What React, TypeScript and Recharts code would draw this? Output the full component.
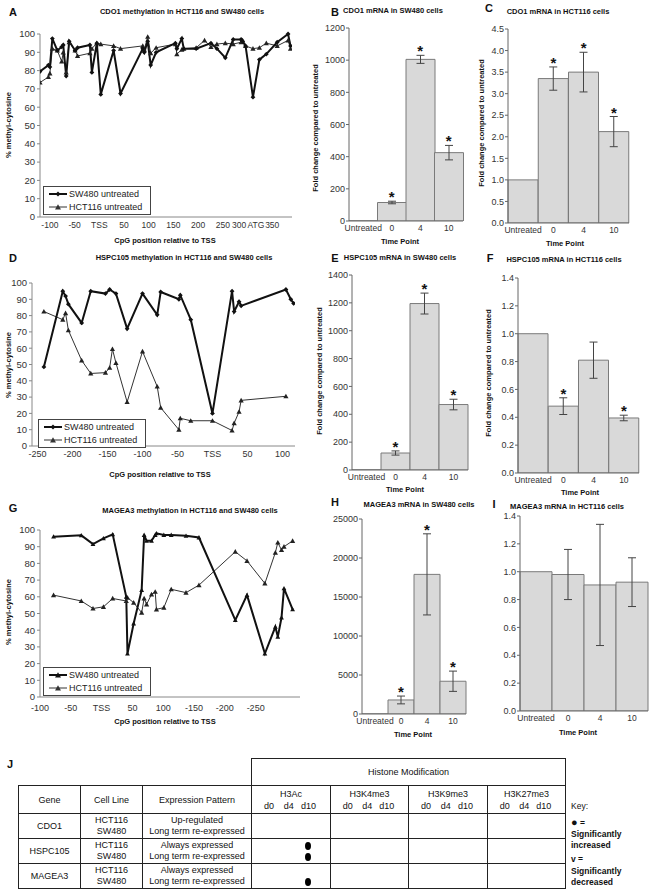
import React from "react";
import {
  LineChart,
  Line,
  XAxis,
  YAxis,
  Legend,
  ComposedChart,
  Bar,
  ErrorBar,
} from "recharts";

const FONT = '"Liberation Sans", Arial, Helvetica, sans-serif';

// ---------- A: CDO1 methylation ----------
const cdo1Pos = [-120, -103, -100, -95, -85, -76, -73, -67, -61, -49, -44, -19, -15, -5, 3, 29, 43, 88, 91, 98, 104, 115, 154, 157, 167, 171, 196, 213, 226, 238, 255, 271, 287, 290, 296, 311, 324, 338, 360, 382, 387];
const cdo1Sw480 = [79.5, 83, 82, 97.5, 91, 93, 94, 77, 96, 91, 92.5, 94, 79, 95, 67, 91, 67.5, 92, 90, 96, 83, 90, 95, 92, 97.5, 92, 92, null, 95, 92, 87, 97, 97, 96, 93.5, 65.5, 86, 89, 95.5, 100, 93.5];
const cdo1Hct116 = [73.5, 76.5, 78.5, 92, 91, 85, 90, 79, 95.5, 91, 88, 89.5, 92, 95, 94.5, 93.5, 92, 93.5, 91.5, 98.5, 89.5, 92.5, 94.5, 89, 91.5, 92, 92.5, 96.5, 93, 94.5, 95, 94.5, 95.5, 96.5, 93.5, 92, 92.5, 95, 93.5, 96.5, 92];
const cdo1Ticks = [-100, -50, 0, 50, 100, 150, 200, 250, 283, 317, 350];
const cdo1TickLabels = ["-100", "-50", "TSS", "50", "100", "150", "200", "250", "300", "ATG", "350"];

// ---------- D: HSPC105 methylation ----------
const hspcPos = [-241, -214, -210, -206, -187, -174, -153, -147, -143, -138, -122, -100, -79, -74, -48, -46, -31, 0, 28, 31, 38, 41, 105, 112, 116];
const hspcSw480 = [48.5, 95, 92, 87, 75.5, 95, 93.5, 96, null, 93.5, 72, 93.5, 80.5, 94.5, 90, 92.5, 77.5, 20, 95, 82.5, 88.5, 86, 96, 90, 87.5];
const hspcHct116 = [82.5, 77.5, 81.5, 71, 52.5, 44.5, 45, 48, 59.5, 51, 27, 58, 36.5, 23.5, 10, 17, 15.5, 15.5, 9.5, 14, 21, 28, 30.5, null, null];
const hspcTicks = [-250, -200, -150, -100, -50, 0, 50, 100];
const hspcTickLabels = ["-250", "-200", "-150", "-100", "-50", "TSS", "50", "100"];

// ---------- G: MAGEA3 methylation ----------
const mageaPos = [-78, -33, -14, 3, 18, 40, 42, 52, 65, 69, 73, 81, 87, 89, 101, 113, 137, 158, 217, 236, 265, 282, 286, 292, 296, 310];
const mageaSw480 = [96, 96.8, 91.6, 95, 97.4, 60, 26, 44, 64, 97, 93.5, 93.5, 97, 98, 97, 97, 96.5, 95.5, 46, 61, 26, 42, 36, 47.5, 65, 52.5];
const mageaHct116 = [61, 57.5, 53, 54, 59, 57.5, 59.5, 56.5, 50.5, 59, 55.5, 61.5, 63, 52.5, 53.5, 64.5, 62.5, 67, 87, 81.5, 68, 86.5, 92.5, 88, 90, 93.5];
const mageaTicks = [-100, -50, 0, 50, 100, 150, 200, 250];
const mageaTickLabels = ["-100", "-50", "TSS", "50", "100", "-150", "-200", "-250"];

const methylTicks = [0, 10, 20, 30, 40, 50, 60, 70, 80, 90, 100];

// ---------- mRNA bar panels ----------
const timePoints = ["Untreated", "0", "4", "10"];

const cdo1Sw480Fold = [1, 115, 1005, 425];
const cdo1Sw480Err = [0, 8, 25, 45];
const cdo1Sw480Star = [false, true, true, true];

const cdo1HctFold = [1.0, 3.35, 3.5, 2.12];
const cdo1HctErr = [0, 0.27, 0.46, 0.35];
const cdo1HctStar = [false, true, true, true];

const hspcSw480Fold = [1, 122, 1195, 470];
const hspcSw480Err = [0, 15, 75, 38];
const hspcSw480Star = [false, true, true, true];

const hspcHctFold = [1.0, 0.48, 0.81, 0.395];
const hspcHctErr = [0, 0.06, 0.13, 0.02];
const hspcHctStar = [false, true, false, true];

const mageaSw480Fold = [1, 1800, 17900, 4200];
const mageaSw480Err = [0, 500, 5200, 1300];
const mageaSw480Star = [false, true, true, true];

const mageaHctFold = [1.0, 0.98, 0.905, 0.925];
const mageaHctErr = [0, 0.18, 0.435, 0.175];
const mageaHctStar = [false, false, false, false];

// ---------- J: histone table ----------
const geneRows = [
  { gene: "CDO1", pattern: ["Up-regulated", "Long term re-expressed"] },
  { gene: "HSPC105", pattern: ["Always expressed", "Long term re-expressed"] },
  { gene: "MAGEA3", pattern: ["Always expressed", "Long term re-expressed"] },
];
const cellLines = ["HCT116", "SW480"];
const histoneMarks = ["H3Ac", "H3K4me3", "H3K9me3", "H3K27me3"];
const days = ["d0", "d4", "d10"];
const increased = [
  { gene: "HSPC105", mark: "H3Ac", day: "d10", line: "HCT116" },
  { gene: "HSPC105", mark: "H3Ac", day: "d10", line: "SW480" },
  { gene: "MAGEA3", mark: "H3Ac", day: "d10", line: "SW480" },
];

type Rect = { x0: number; y0: number; x1: number; y1: number };

function Txt({ x, y, children, size = 8, bold = false, anchor = "middle", rotate = false }: any) {
  const tx = anchor === "middle" ? "-50%" : "0";
  return (
    <div
      style={{
        position: "absolute",
        left: x,
        top: y,
        transform: `translate(${tx}, -50%)${rotate ? " rotate(-90deg)" : ""}`,
        transformOrigin: rotate ? "center" : undefined,
        fontSize: size,
        fontWeight: bold ? "bold" : "normal",
        whiteSpace: "nowrap",
        lineHeight: 1,
        color: "#111",
      }}
    >
      {children}
    </div>
  );
}

const makeDot = (shape: "diamond" | "triangle", s: number, color: string) => (p: any) => {
  const { cx, cy, index, value } = p;
  const k = `dot-${index}`;
  if (cx == null || cy == null || value == null || Number.isNaN(cy)) return <g key={k} />;
  if (shape === "triangle") {
    return <path key={k} d={`M${cx},${cy - s} L${cx + s},${cy + s * 0.8} L${cx - s},${cy + s * 0.8} Z`} fill={color} />;
  }
  return <path key={k} d={`M${cx},${cy - s} L${cx + s},${cy} L${cx},${cy + s} L${cx - s},${cy} Z`} fill={color} />;
};

function MethylLegend({ swShape }: { swShape: "diamond" | "triangle" }) {
  const rows = [
    { name: "SW480 untreated", w: 2, color: "#111", shape: swShape },
    { name: "HCT116 untreated", w: 1, color: "#333", shape: "triangle" as const },
  ];
  return (
    <div style={{ border: "1px solid #444", background: "#fff", padding: "1px 8px 1px 4px", whiteSpace: "nowrap" }}>
      {rows.map((r) => (
        <div key={r.name} style={{ display: "flex", alignItems: "center", height: 12.5, fontSize: 9, color: "#222", fontFamily: FONT }}>
          <svg width={20} height={8} style={{ marginRight: 1, flex: "none" }}>
            <line x1={1} y1={4} x2={19} y2={4} stroke={r.color} strokeWidth={r.w} />
            {r.shape === "triangle" ? (
              <path d="M10,1.2 L13,6.4 L7,6.4 Z" fill={r.color} />
            ) : (
              <path d="M10,1.5 L12.5,4 L10,6.5 L7.5,4 Z" fill={r.color} />
            )}
          </svg>
          <span>{r.name}</span>
        </div>
      ))}
    </div>
  );
}

function MethylPanel({ rect, pos, sw, hct, domain, ticks, labels, swShape, legend, xFont = 9, xGap = 4 }: any) {
  const L = 32, T = 6, R = 8, B = 18;
  const width = rect.x1 - rect.x0 + L + R;
  const height = rect.y1 - rect.y0 + T + B;
  const data = pos.map((p: number, i: number) => ({ pos: p, sw: sw[i], hct: hct[i] }));
  const fmt = (v: number) => labels[ticks.indexOf(v)] ?? String(v);
  return (
    <div style={{ position: "absolute", left: rect.x0 - L, top: rect.y0 - T }}>
      <LineChart width={width} height={height} data={data} margin={{ top: T, right: R, left: 0, bottom: 0 }}>
        <XAxis
          type="number"
          dataKey="pos"
          domain={domain}
          ticks={ticks}
          interval={0}
          allowDataOverflow
          tickFormatter={fmt}
          height={B}
          tickLine={false}
          tickSize={1}
          tickMargin={xGap}
          axisLine={{ stroke: "#888" }}
          tick={{ fontSize: xFont, fill: "#333", fontFamily: FONT }}
        />
        <YAxis
          type="number"
          domain={[0, 100]}
          ticks={methylTicks}
          interval={0}
          width={L}
          tickSize={3}
          tickMargin={2}
          axisLine={{ stroke: "#888" }}
          tickLine={{ stroke: "#888" }}
          tick={{ fontSize: 9.5, fill: "#333", fontFamily: FONT }}
        />
        <Legend
          layout="vertical"
          align="center"
          verticalAlign="middle"
          wrapperStyle={{ left: legend[0] - (rect.x0 - L), top: legend[1] - (rect.y0 - T), width: "auto", height: "auto" }}
          content={() => <MethylLegend swShape={swShape} />}
        />
        <Line
          type="linear"
          dataKey="hct"
          name="HCT116 untreated"
          stroke="#333"
          strokeWidth={1}
          dot={makeDot("triangle", 2.6, "#222")}
          activeDot={false}
          connectNulls
          isAnimationActive={false}
        />
        <Line
          type="linear"
          dataKey="sw"
          name="SW480 untreated"
          stroke="#111"
          strokeWidth={2}
          dot={makeDot(swShape, 2.4, "#111")}
          activeDot={false}
          connectNulls
          isAnimationActive={false}
        />
      </LineChart>
    </div>
  );
}

const renderStar = (p: any) => {
  const { cx, cy, index, value } = p;
  const k = `star-${index}`;
  if (cx == null || cy == null || value == null || Number.isNaN(cy)) return <g key={k} />;
  return (
    <text key={k} x={cx} y={cy + 1} textAnchor="middle" fontSize={15} fontWeight="bold" fontFamily={FONT} fill="#111">
      *
    </text>
  );
};

function FoldPanel({ rect, vals, errs, stars, yMax, yStep, decimals }: any) {
  const L = 34, T = 6, R = 4, B = 16;
  const width = rect.x1 - rect.x0 + L + R;
  const height = rect.y1 - rect.y0 + T + B;
  const data = timePoints.map((c, i) => ({
    cat: c,
    v: vals[i],
    err: errs[i],
    star: stars[i] ? vals[i] + errs[i] : null,
  }));
  const yTicks: number[] = [];
  for (let t = 0; t <= yMax + 1e-9; t += yStep) yTicks.push(Number(t.toFixed(4)));
  return (
    <div style={{ position: "absolute", left: rect.x0 - L, top: rect.y0 - T }}>
      <ComposedChart width={width} height={height} data={data} margin={{ top: T, right: R, left: 0, bottom: 0 }} barCategoryGap={0}>
        <XAxis
          dataKey="cat"
          height={B}
          tickLine={false}
          tickSize={1}
          tickMargin={3}
          interval={0}
          axisLine={{ stroke: "#666" }}
          tick={{ fontSize: 8.5, fill: "#333", fontFamily: FONT }}
        />
        <YAxis
          type="number"
          domain={[0, yMax]}
          ticks={yTicks}
          interval={0}
          width={L}
          tickSize={3}
          tickMargin={1}
          allowDataOverflow
          tickFormatter={(v: number) => v.toFixed(decimals)}
          axisLine={{ stroke: "#666" }}
          tickLine={{ stroke: "#666" }}
          tick={{ fontSize: 9, fill: "#333", fontFamily: FONT }}
        />
        <Bar dataKey="v" fill="#d9d9d9" stroke="#7a7a7a" strokeWidth={1} isAnimationActive={false}>
          <ErrorBar dataKey="err" width={4} stroke="#444" strokeWidth={1} direction="y" />
        </Bar>
        <Line dataKey="star" stroke="none" dot={renderStar} activeDot={false} legendType="none" isAnimationActive={false} />
      </ComposedChart>
    </div>
  );
}

function HistoneTable() {
  const colW = [62, 62, 109, 79, 78, 79, 78];
  const cell: React.CSSProperties = { border: "1px solid #222", padding: 0, textAlign: "center", verticalAlign: "middle" };
  const dayGrid: React.CSSProperties = { display: "grid", gridTemplateColumns: "1fr 1fr 1fr", paddingLeft: "9%", paddingRight: "15%" };
  return (
    <table
      style={{
        position: "absolute",
        left: 18,
        top: 758,
        borderCollapse: "collapse",
        tableLayout: "fixed",
        width: colW.reduce((a, b) => a + b, 0),
        fontSize: 9,
        color: "#111",
        fontFamily: FONT,
      }}
    >
      <colgroup>
        {colW.map((w, i) => (
          <col key={i} style={{ width: w }} />
        ))}
      </colgroup>
      <tbody>
        <tr style={{ height: 27 }}>
          <td colSpan={3} style={{ border: "none" }} />
          <td colSpan={4} style={cell}>Histone Modification</td>
        </tr>
        <tr style={{ height: 28 }}>
          <td style={cell}>Gene</td>
          <td style={cell}>Cell Line</td>
          <td style={cell}>Expression Pattern</td>
          {histoneMarks.map((m) => (
            <td key={m} style={cell}>
              <div style={{ lineHeight: "12px" }}>{m}</div>
              <div style={{ ...dayGrid, lineHeight: "12px" }}>
                {days.map((d) => (
                  <span key={d}>{d}</span>
                ))}
              </div>
            </td>
          ))}
        </tr>
        {geneRows.map((g) => (
          <tr key={g.gene} style={{ height: 25 }}>
            <td style={cell}>{g.gene}</td>
            <td style={{ ...cell, lineHeight: "11px" }}>
              {cellLines.map((l) => (
                <div key={l}>{l}</div>
              ))}
            </td>
            <td style={{ ...cell, lineHeight: "11px" }}>
              {g.pattern.map((t) => (
                <div key={t}>{t}</div>
              ))}
            </td>
            {histoneMarks.map((m) => (
              <td key={m} style={cell}>
                {cellLines.map((l) => (
                  <div key={l} style={{ ...dayGrid, height: 11, alignItems: "center" }}>
                    {days.map((d) => {
                      const on = increased.some((e) => e.gene === g.gene && e.mark === m && e.day === d && e.line === l);
                      return (
                        <span key={d} style={{ display: "flex", justifyContent: "center" }}>
                          {on ? <span style={{ width: 6, height: 8, borderRadius: "50%", background: "#000", display: "inline-block" }} /> : null}
                        </span>
                      );
                    })}
                  </div>
                ))}
              </td>
            ))}
          </tr>
        ))}
      </tbody>
    </table>
  );
}

export default function App() {
  const A: Rect = { x0: 40, y0: 34, x1: 292, y1: 217 };
  const D: Rect = { x0: 32, y0: 283, x1: 295, y1: 446 };
  const G: Rect = { x0: 40, y0: 530, x1: 300, y1: 697 };
  const foldLabel = "Fold change compared to untreated";
  return (
    <div style={{ position: "absolute", left: 0, top: 0, width: 651, height: 893, background: "#fff", overflow: "hidden", fontFamily: FONT }}>
      {/* line panels */}
      <MethylPanel rect={A} pos={cdo1Pos} sw={cdo1Sw480} hct={cdo1Hct116} domain={[-120, 390]} ticks={cdo1Ticks} labels={cdo1TickLabels} swShape="diamond" legend={[43, 186]} xFont={8.5} />
      <MethylPanel rect={D} pos={hspcPos} sw={hspcSw480} hct={hspcHct116} domain={[-258, 118]} ticks={hspcTicks} labels={hspcTickLabels} swShape="diamond" legend={[38, 419]} />
      <MethylPanel rect={G} pos={mageaPos} sw={mageaSw480} hct={mageaHct116} domain={[-100, 322]} ticks={mageaTicks} labels={mageaTickLabels} swShape="triangle" legend={[43, 667]} xGap={7} />

      {/* bar panels */}
      <FoldPanel rect={{ x0: 349, y0: 28, x1: 463, y1: 221 }} vals={cdo1Sw480Fold} errs={cdo1Sw480Err} stars={cdo1Sw480Star} yMax={1200} yStep={200} decimals={0} />
      <FoldPanel rect={{ x0: 508, y0: 29, x1: 629, y1: 223 }} vals={cdo1HctFold} errs={cdo1HctErr} stars={cdo1HctStar} yMax={4.5} yStep={0.5} decimals={1} />
      <FoldPanel rect={{ x0: 352, y0: 275, x1: 468, y1: 470 }} vals={hspcSw480Fold} errs={hspcSw480Err} stars={hspcSw480Star} yMax={1400} yStep={200} decimals={0} />
      <FoldPanel rect={{ x0: 518, y0: 278, x1: 639, y1: 473 }} vals={hspcHctFold} errs={hspcHctErr} stars={hspcHctStar} yMax={1.4} yStep={0.2} decimals={1} />
      <FoldPanel rect={{ x0: 362, y0: 519, x1: 466, y1: 714 }} vals={mageaSw480Fold} errs={mageaSw480Err} stars={mageaSw480Star} yMax={25000} yStep={5000} decimals={0} />
      <FoldPanel rect={{ x0: 520, y0: 516, x1: 648, y1: 711 }} vals={mageaHctFold} errs={mageaHctErr} stars={mageaHctStar} yMax={1.4} yStep={0.2} decimals={1} />

      {/* panel letters */}
      <Txt x={13} y={12} size={11} bold>A</Txt>
      <Txt x={335} y={12} size={11} bold>B</Txt>
      <Txt x={489} y={8} size={11} bold>C</Txt>
      <Txt x={13} y={258} size={11} bold>D</Txt>
      <Txt x={335} y={258} size={11} bold>E</Txt>
      <Txt x={490} y={258} size={11} bold>F</Txt>
      <Txt x={13} y={508} size={11} bold>G</Txt>
      <Txt x={335} y={502} size={11} bold>H</Txt>
      <Txt x={494} y={504} size={11} bold>I</Txt>
      <Txt x={10} y={764} size={11} bold>J</Txt>

      {/* titles */}
      <Txt x={182} y={12} size={7.5} bold>CDO1 methylation in HCT116 and SW480 cells</Txt>
      <Txt x={184} y={258} size={7.5} bold>HSPC105 methylation in HCT116 and SW480 cells</Txt>
      <Txt x={190} y={511} size={7.5} bold>MAGEA3 methylation in HCT116 and SW480 cells</Txt>
      <Txt x={393} y={11} size={7.5} bold>CDO1 mRNA in SW480 cells</Txt>
      <Txt x={558} y={12} size={7.5} bold>CDO1 mRNA in HCT116 cells</Txt>
      <Txt x={400} y={258} size={7.5} bold>HSPC105 mRNA in SW480 cells</Txt>
      <Txt x={564} y={260} size={7.5} bold>HSPC105 mRNA in HCT116 cells</Txt>
      <Txt x={419} y={505} size={7.5} bold>MAGEA3 mRNA in SW480 cells</Txt>
      <Txt x={567} y={507} size={7.5} bold>MAGEA3 mRNA in HCT116 cells</Txt>

      {/* axis titles */}
      <Txt x={165} y={241} size={7.5} bold>CpG position relative to TSS</Txt>
      <Txt x={160} y={475} size={7.5} bold>CpG position relative to TSS</Txt>
      <Txt x={165} y={722} size={7.5} bold>CpG position relative to TSS</Txt>
      <Txt x={9} y={125} size={7.5} bold rotate>% methyl-cytosine</Txt>
      <Txt x={9} y={365} size={7.5} bold rotate>% methyl-cytosine</Txt>
      <Txt x={9} y={612} size={7.5} bold rotate>% methyl-cytosine</Txt>
      <Txt x={400} y={242} size={7.5} bold>Time Point</Txt>
      <Txt x={565} y={244} size={7.5} bold>Time Point</Txt>
      <Txt x={405} y={490} size={7.5} bold>Time Point</Txt>
      <Txt x={580} y={493} size={7.5} bold>Time Point</Txt>
      <Txt x={413} y={735} size={7.5} bold>Time Point</Txt>
      <Txt x={578} y={733} size={7.5} bold>Time Point</Txt>
      <Txt x={316} y={128} size={7.5} bold rotate>{foldLabel}</Txt>
      <Txt x={482} y={123} size={7.5} bold rotate>{foldLabel}</Txt>
      <Txt x={320} y={371} size={7.5} bold rotate>{foldLabel}</Txt>
      <Txt x={489} y={373} size={7.5} bold rotate>{foldLabel}</Txt>

      <HistoneTable />

      {/* key */}
      <Txt x={571} y={806} size={8.5} anchor="start">Key:</Txt>
      <Txt x={571} y={822} size={8.5} bold anchor="start"><span style={{ fontSize: 11 }}>●</span> =</Txt>
      <Txt x={571} y={834} size={8.5} bold anchor="start">Significantly</Txt>
      <Txt x={571} y={845} size={8.5} bold anchor="start">increased</Txt>
      <Txt x={571} y={859} size={8.5} bold anchor="start">v =</Txt>
      <Txt x={571} y={871} size={8.5} bold anchor="start">Significantly</Txt>
      <Txt x={571} y={882} size={8.5} bold anchor="start">decreased</Txt>
    </div>
  );
}
